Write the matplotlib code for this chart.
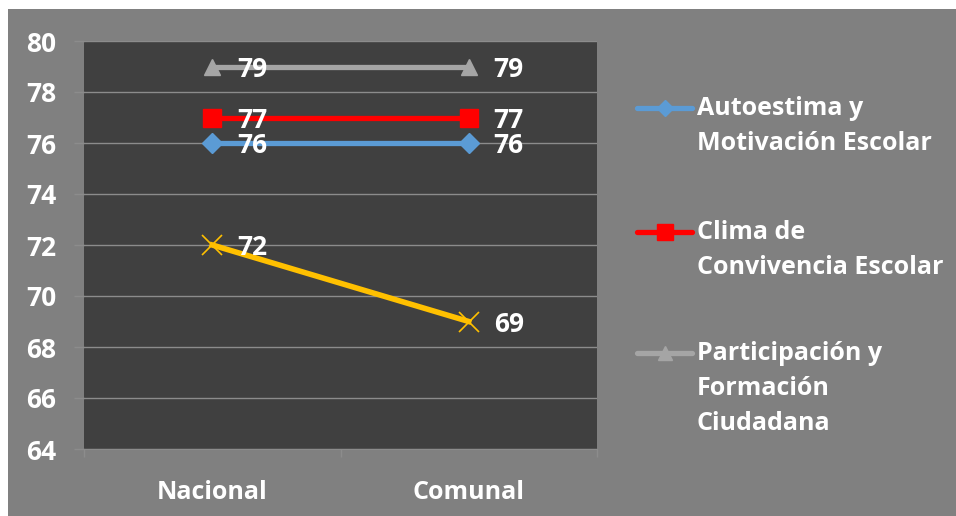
import numpy as np
import matplotlib
matplotlib.use("Agg")
from matplotlib import pyplot as plt
from matplotlib.lines import Line2D
from matplotlib.patches import Rectangle

categories = ["Nacional", "Comunal"]
autoestima = [76, 76]
clima = [77, 77]
participacion = [79, 79]
habitos = [72, 69]

series_names = ["Autoestima y\nMotivación Escolar",
                "Clima de\nConvivencia Escolar",
                "Participación y\nFormación\nCiudadana",
                None]
series_values = [autoestima, clima, participacion, habitos]
colors = ["#5B9BD5", "#FF0000", "#A5A5A5", "#FFC000"]
markers = ["D", "s", "^", "x"]
msizes = [10, 13, 12, 15]

yticks = [64, 66, 68, 70, 72, 74, 76, 78, 80]

plt.rcParams['font.family'] = ['Open Sans', 'DejaVu Sans']
plt.rcParams['font.weight'] = 'bold'

fig = plt.figure(figsize=(9.56, 5.16), dpi=100, facecolor="white")
# gray chart area (white margin top/left as in the reference)
fig.add_artist(Rectangle((8 / 956, 0), 1, 1 - 9 / 516, transform=fig.transFigure,
                         facecolor="#808080", edgecolor="none", zorder=-10))

ax = fig.add_axes([84 / 956, 67 / 516, 513 / 956, 408 / 516])
ax.set_facecolor("#404040")

x = np.arange(len(categories))
for vals, c, m, ms in zip(series_values, colors, markers, msizes):
	if m == "x":
		ax.plot(x, vals, color=c, lw=4, marker=m, ms=ms, mew=1.2, zorder=3)
	else:
		ax.plot(x, vals, color=c, lw=3.8, marker=m, ms=ms, mec=c, zorder=3)
	for xi, v in zip(x, vals):
		ax.annotate(str(v), (xi, v), xytext=(18, -2), textcoords="offset points",
		            ha="left", va="center", color="white", fontsize=19,
		            fontweight="bold", zorder=4)

ax.set_xlim(-0.5, 1.5)
ax.set_ylim(64, 80)
ax.set_yticks(yticks)
ax.set_xticks(x)
ax.set_xticklabels(categories)
ax.set_xticks([-0.5, 0.5, 1.5], minor=True)
ax.tick_params(axis="x", which="major", length=0, pad=22, labelsize=18, labelcolor="white")
ax.tick_params(axis="x", which="minor", length=6, color="#8c8c8c", width=1)
ax.tick_params(axis="y", length=7, color="#8c8c8c", width=1, pad=13,
               labelsize=19, labelcolor="white")
ax.grid(True, axis="y", color="#8c8c8c", lw=1)
ax.set_axisbelow(True)
for s in ["top", "right", "left"]:
	ax.spines[s].set_visible(False)
ax.spines["bottom"].set_color("#8c8c8c")

# legend drawn by hand so each handle lines up with the first text line
leg_y = [108, 232, 353]
for name, c, m, ms, yy in zip(series_names, colors, markers, msizes, leg_y):
	if name is None:
		continue
	yf = 1 - yy / 516
	fig.add_artist(Line2D([637 / 956, 692 / 956], [yf, yf], transform=fig.transFigure,
	                      color=c, lw=3.8, solid_capstyle="round"))
	fig.add_artist(Line2D([664.5 / 956], [yf], transform=fig.transFigure,
	                      color=c, marker=m, ms=ms * 0.85, mec=c))
	fig.text(697 / 956, 1 - (yy - 12) / 516, name, ha="left", va="top", color="white",
	         fontsize=18, fontweight="bold", linespacing=1.52)

fig.savefig("out.png", dpi=100, facecolor=fig.get_facecolor())
